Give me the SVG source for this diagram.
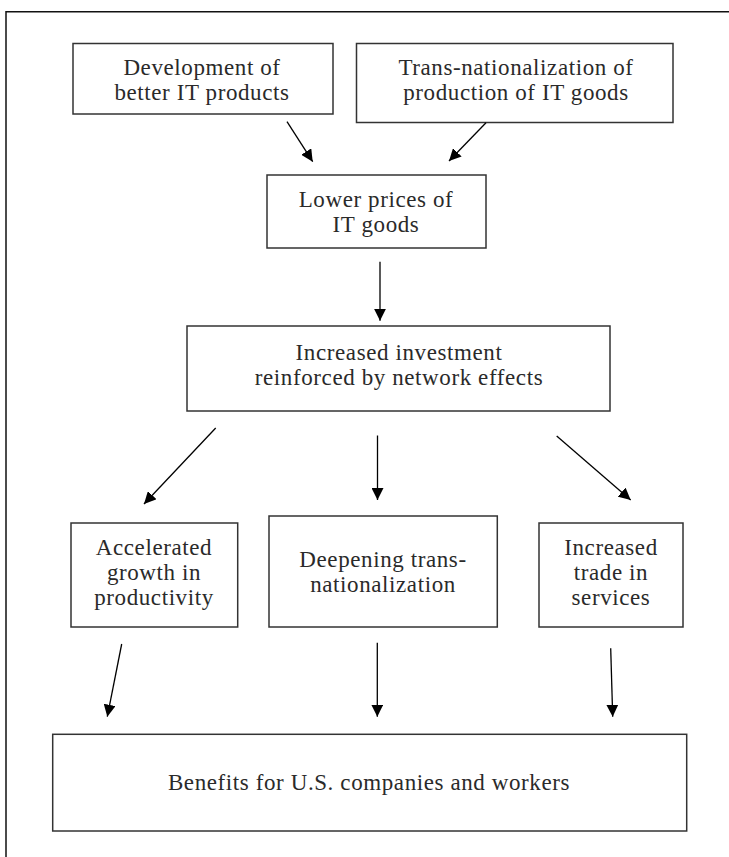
<svg xmlns="http://www.w3.org/2000/svg" width="729" height="857" viewBox="0 0 729 857">
<style>
.box{fill:#fff;stroke:#333;stroke-width:1.5}
.t{font-family:"Liberation Serif","Times New Roman",serif;font-size:23px;letter-spacing:0.6px;fill:#2a2a2a;text-anchor:middle}
.c{stroke:#000;stroke-width:1.3;fill:none;marker-end:url(#ah)}
.frame{stroke:#111;stroke-width:1.5;fill:none}
</style>
<defs>
<marker id="ah" markerUnits="userSpaceOnUse" markerWidth="12" markerHeight="12" viewBox="0 0 12 12" refX="12" refY="6" orient="auto">
<path d="M0,0 L12,6 L0,12 z" fill="#000"/>
</marker>
</defs>
<rect width="729" height="857" fill="#fff"/>
<path class="frame" d="M6,857 L6,11.7 L729,11.7"/>
<g id="n1">
<rect class="box" x="73" y="43.5" width="260" height="70.5"/>
<text class="t" x="202" y="75">Development of</text>
<text class="t" x="202" y="100">better IT products</text>
</g>
<g id="n2">
<rect class="box" x="356.5" y="43.5" width="316.5" height="79"/>
<text class="t" x="516" y="75">Trans-nationalization of</text>
<text class="t" x="516" y="100">production of IT goods</text>
</g>
<g id="n3">
<rect class="box" x="267" y="175" width="219" height="73"/>
<text class="t" x="376" y="206.5">Lower prices of</text>
<text class="t" x="376" y="231.5">IT goods</text>
</g>
<g id="n4">
<rect class="box" x="187" y="326" width="423" height="85"/>
<text class="t" x="399" y="360">Increased investment</text>
<text class="t" x="399" y="385">reinforced by network effects</text>
</g>
<g id="n5">
<rect class="box" x="71" y="523" width="166.7" height="104"/>
<text class="t" x="154" y="555">Accelerated</text>
<text class="t" x="154" y="580">growth in</text>
<text class="t" x="154" y="605">productivity</text>
</g>
<g id="n6">
<rect class="box" x="269" y="516" width="228.3" height="111"/>
<text class="t" x="383" y="567">Deepening trans-</text>
<text class="t" x="383" y="592">nationalization</text>
</g>
<g id="n7">
<rect class="box" x="539" y="523" width="144" height="104"/>
<text class="t" x="611" y="555">Increased</text>
<text class="t" x="611" y="580">trade in</text>
<text class="t" x="611" y="605">services</text>
</g>
<g id="n8">
<rect class="box" x="52.7" y="734.3" width="634" height="96.7"/>
<text class="t" x="369" y="789.5">Benefits for U.S. companies and workers</text>
</g>
<g id="connectors">
<line class="c" x1="287" y1="121.7" x2="312.7" y2="161.7"/>
<line class="c" x1="486" y1="122.7" x2="449" y2="161"/>
<line class="c" x1="380" y1="261.7" x2="380" y2="320.7"/>
<line class="c" x1="215.7" y1="428" x2="144" y2="504"/>
<line class="c" x1="377.5" y1="435.5" x2="377.5" y2="500"/>
<line class="c" x1="556.7" y1="436" x2="630.7" y2="500"/>
<line class="c" x1="121.7" y1="644" x2="107.3" y2="716.7"/>
<line class="c" x1="377.3" y1="642.7" x2="377.3" y2="716.7"/>
<line class="c" x1="610.7" y1="648.3" x2="612.7" y2="716.7"/>
</g>
</svg>
